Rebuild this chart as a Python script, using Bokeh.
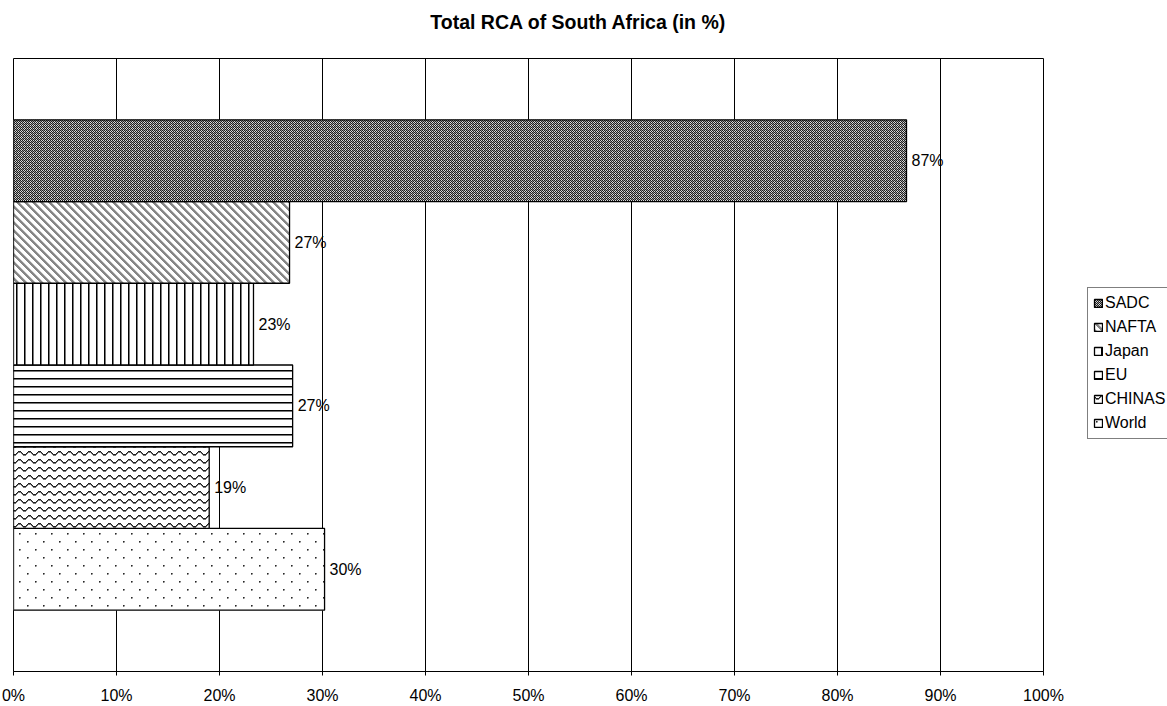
import base64
import struct
import zlib

from bokeh.core.properties import value
from bokeh.embed import file_html
from bokeh.layouts import column
from bokeh.models import (ColumnDataSource, FixedTicker, ImageURLTexture,
                          Legend, LegendItem, PrintfTickFormatter, Range1d)
from bokeh.plotting import figure
from bokeh.resources import INLINE

# Revealed comparative advantage of South Africa by partner (in %)
partners = ["World", "CHINAS", "EU", "Japan", "NAFTA", "SADC"]
rca_pct = [30.2, 19.0, 27.1, 23.3, 26.8, 86.7]
x_ticks = [0, 10, 20, 30, 40, 50, 60, 70, 80, 90, 100]
chart_title = "Total RCA of South Africa (in %)"

FONT = "Liberation Sans"
FS = "16px"
PAGE_W = 1167
HEAD_H = 50


def png_tile(rows):
    """Encode a small grayscale tile (list of rows of 0-255 ints) as a PNG data URL."""
    h, w = len(rows), len(rows[0])
    raw = b"".join(b"\x00" + bytes(r) for r in rows)

    def chunk(tag, data):
        c = struct.pack(">I", len(data)) + tag + data
        return c + struct.pack(">I", zlib.crc32(tag + data) & 0xFFFFFFFF)

    png = (b"\x89PNG\r\n\x1a\n"
           + chunk(b"IHDR", struct.pack(">IIBBBBB", w, h, 8, 0, 0, 0, 0))
           + chunk(b"IDAT", zlib.compress(raw))
           + chunk(b"IEND", b""))
    return "data:image/png;base64," + base64.b64encode(png).decode()


W = 255


def tile_mesh():
    # fine dark mesh with a lighter grid every few pixels
    n = 6
    rows = []
    for y in range(n):
        r = []
        for x in range(n):
            if (x + y) % 2 == 0:
                r.append(30)
            else:
                r.append(215 if (x % 3 == 0 or y % 3 == 0) else 150)
        rows.append(r)
    return rows


def tile_back_diagonal():
    n = 8
    rows = []
    for y in range(n):
        r = []
        for x in range(n):
            d = (x - y) % n
            r.append(135 if d in (0, 1, 2) else (205 if d == 3 else W))
        rows.append(r)
    return rows


def tile_vertical():
    return [[0, 120, W, W, W, W, W, W]]


def tile_horizontal():
    return [[v] for v in [0, 120, W, W, W, W, W, W]]


def tile_wave():
    w, h = 10, 8
    prof = [0, 1, 2, 3, 3, 3, 2, 1, 0, 0]
    rows = [[W] * w for _ in range(h)]
    for x in range(w):
        y0 = 1 + prof[x]
        rows[y0][x] = 30
        rows[(y0 + 1) % h][x] = 120
    return rows


def tile_dots():
    n = 16
    rows = [[W] * n for _ in range(n)]
    for (cx, cy) in ((3, 3), (11, 11)):
        rows[cy][cx] = 40
        rows[cy][cx + 1] = 120
        rows[cy + 1][cx] = 120
        rows[cy + 1][cx + 1] = 190
    return rows


textures = {
    "dots": ImageURLTexture(url=png_tile(tile_dots())),
    "wave": ImageURLTexture(url=png_tile(tile_wave())),
    "hlines": ImageURLTexture(url=png_tile(tile_horizontal())),
    "vlines": ImageURLTexture(url=png_tile(tile_vertical())),
    "bdiag": ImageURLTexture(url=png_tile(tile_back_diagonal())),
    "mesh": ImageURLTexture(url=png_tile(tile_mesh())),
}
hatches = ["dots", "wave", "hlines", "vlines", "bdiag", "mesh"]

ypos = [i + 1.25 for i in range(len(partners))]
labels = ["%d%%" % round(v) for v in rca_pct]

src = ColumnDataSource(dict(y=ypos, v=rca_pct, lab=labels, hatch=hatches))

# --- heading strip (pixel coordinates, y pointing down) ---
head = figure(frame_width=PAGE_W, frame_height=HEAD_H,
              output_backend="svg", toolbar_location=None,
              x_range=Range1d(0, PAGE_W), y_range=Range1d(HEAD_H, 0),
              x_axis_location=None, y_axis_location=None,
              min_border=0, title_location=None)
head.grid.visible = False
head.outline_line_color = None
head.border_fill_color = "white"
head.background_fill_color = "white"
head.text(x=[565], y=[21], text=[chart_title], text_align="center",
          text_baseline="alphabetic", text_font=value(FONT),
          text_font_size="19.5px", text_font_style="bold", text_color="black")

# --- main bar chart ---
p = figure(frame_width=1030, frame_height=613,
           output_backend="svg", toolbar_location=None,
           x_range=Range1d(0, 100), y_range=Range1d(0, 7.5),
           title_location=None,
           min_border_left=13, min_border_right=124,
           min_border_top=8, min_border_bottom=35)

p.outline_line_color = "black"
p.outline_line_width = 1
p.background_fill_color = "white"
p.border_fill_color = "white"

bars = p.hbar(y="y", right="v", left=0, height=1.0, source=src,
              fill_color="white", line_color="black", line_width=1.3,
              hatch_pattern="hatch", hatch_extra=textures)

p.text(x="v", y="y", text="lab", source=src, x_offset=5,
       text_baseline="middle", text_align="left",
       text_font=value(FONT), text_font_size=FS, text_color="black")

p.yaxis.visible = False
p.ygrid.visible = False
p.xgrid.grid_line_color = "black"
p.xgrid.grid_line_width = 1
p.xgrid.ticker = FixedTicker(ticks=x_ticks)

xa = p.xaxis[0]
xa.ticker = FixedTicker(ticks=x_ticks)
xa.formatter = PrintfTickFormatter(format="%d%%")
xa.major_tick_out = 4
xa.major_tick_in = 0
xa.minor_tick_out = 0
xa.minor_tick_in = 0
xa.axis_line_color = "black"
xa.major_tick_line_color = "black"
xa.major_label_text_font = FONT
xa.major_label_text_font_size = FS
xa.major_label_text_color = "black"
xa.major_label_standoff = 11

items = [LegendItem(label=partners[i], renderers=[bars], index=i)
         for i in reversed(range(len(partners)))]
legend = Legend(items=items, location=(44, 232),
                label_text_font=FONT, label_text_font_size=FS,
                label_text_color="black",
                glyph_width=10, glyph_height=10, label_height=20,
                label_standoff=2, spacing=4, padding=5, margin=0,
                border_line_color="black", border_line_width=1)
p.add_layout(legend, "right")

page = column(head, p, spacing=0)
open("out.html", "w").write(file_html(page, INLINE))
